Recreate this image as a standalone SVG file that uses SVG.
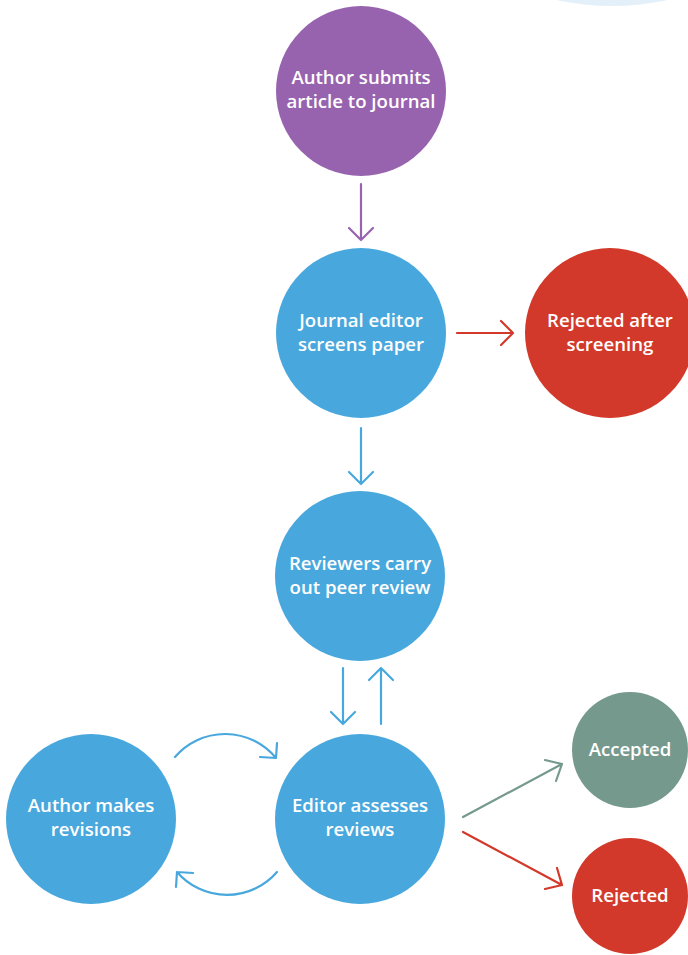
<svg xmlns="http://www.w3.org/2000/svg" width="688" height="955" viewBox="0 0 688 955">
<style>
.t{font-family:"Open Sans","Liberation Sans",sans-serif;font-weight:600;font-size:18.6px;fill:#fff;text-anchor:middle}
.a{fill:none;stroke-width:2.2;stroke-linecap:round;stroke-linejoin:round}
.p{stroke:#9763ae}.b{stroke:#48a8dd}.r{stroke:#d2392a}.g{stroke:#76998d}
</style>
<rect width="688" height="955" fill="#fff"/>
<circle cx="612" cy="-254" r="260" fill="#e3f0fa"/>
<g id="submit"><circle cx="361" cy="91" r="85" fill="#9763ae"/><text class="t" x="361" y="84">Author submits</text><text class="t" x="361" y="108">article to journal</text></g>
<g id="screen"><circle cx="361" cy="333" r="85" fill="#48a8dd"/><text class="t" x="361" y="327">Journal editor</text><text class="t" x="361" y="351">screens paper</text></g>
<g id="rejscreen"><circle cx="610" cy="333" r="85" fill="#d2392a"/><text class="t" x="610" y="327">Rejected after</text><text class="t" x="610" y="351">screening</text></g>
<g id="review"><circle cx="360" cy="576" r="85" fill="#48a8dd"/><text class="t" x="360" y="570">Reviewers carry</text><text class="t" x="360" y="594">out peer review</text></g>
<g id="assess"><circle cx="360" cy="819" r="85" fill="#48a8dd"/><text class="t" x="360" y="812">Editor assesses</text><text class="t" x="360" y="836">reviews</text></g>
<g id="revise"><circle cx="91" cy="819" r="85" fill="#48a8dd"/><text class="t" x="91" y="812">Author makes</text><text class="t" x="91" y="836">revisions</text></g>
<g id="accepted"><circle cx="630" cy="750" r="58" fill="#76998d"/><text class="t" x="630" y="756">Accepted</text></g>
<g id="rejected"><circle cx="630" cy="896" r="58" fill="#d2392a"/><text class="t" x="630" y="902">Rejected</text></g>
<g id="connectors">
<path class="a p" d="M361 184V240M349 228L361 240L373 228"/>
<path class="a r" d="M457 333H513M501 321L513 333L501 345"/>
<path class="a b" d="M361 428V484M349 472L361 484L373 472"/>
<path class="a b" d="M343 668V724M331 712L343 724L355 712"/>
<path class="a b" d="M381 724V668M369 680L381 668L393 680"/>
<path class="a b" d="M175 757A66 66 0 0 1 276 758M277 743L276 758L260 757"/>
<path class="a b" d="M277 872A66 66 0 0 1 177 872M176 887L177 872L193 873"/>
<path class="a g" d="M463 817L562 764M545 760L562 764L556 781"/>
<path class="a r" d="M463 832L562 885M557 868L562 885L545 889"/>
</g>
</svg>
